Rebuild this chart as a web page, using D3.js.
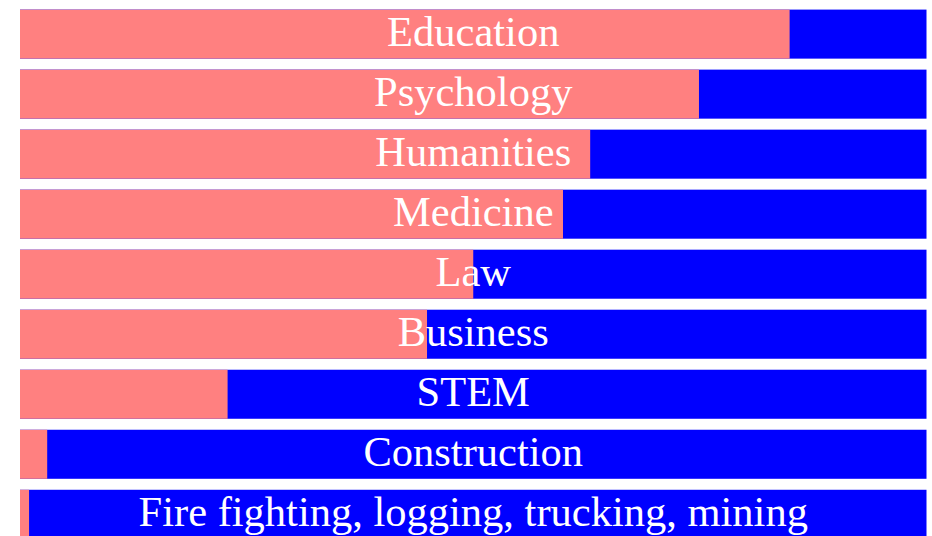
<!DOCTYPE html>
<html>
<head>
<meta charset="utf-8">
<script src="https://cdn.jsdelivr.net/npm/d3@7"></script>
<style>
  body { margin: 0; background: #fff; }
  svg { display: block; }
</style>
</head>
<body>
<div id="chart"></div>
<script>
// fields, top to bottom, and share of women (pink part) in each
var fields = ["Education", "Psychology", "Humanities", "Medicine", "Law",
              "Business", "STEM", "Construction", "Fire fighting, logging, trucking, mining"]
var women = [0.849, 0.749, 0.629, 0.599, 0.50, 0.449, 0.229, 0.03, 0.01]

var width = 932
var height = 536

var svg = d3.select("#chart")
  .append("svg")
  .attr("width", width)
  .attr("height", height)

// x scale goes over the full 0..1 share
var x = d3.scaleLinear()
  .domain([0, 1])
  .range([20, 926.5])

// band scale, last bar runs off the bottom like the original
var y = d3.scaleBand()
  .domain(fields)
  .range([-1.3, 538.7 + 11])
  .paddingInner(0.183)
  .paddingOuter(0.183 / 2 + 0.09)

var rows = svg.selectAll("g.row")
  .data(fields)
  .enter()
  .append("g")
  .attr("class", "row")

// blue part first (full bar), then pink on top
rows.append("rect")
  .attr("x", x(0))
  .attr("y", function(d) { return y(d) })
  .attr("width", x(1) - x(0))
  .attr("height", y.bandwidth())
  .attr("fill", "#0000ff")

rows.append("rect")
  .attr("x", x(0))
  .attr("y", function(d) { return y(d) })
  .attr("width", function(d, i) { return x(women[i]) - x(0) })
  .attr("height", y.bandwidth())
  .attr("fill", "#ff8080")

rows.append("text")
  .attr("x", (x(0) + x(1)) / 2)
  .attr("y", function(d) { return y(d) + y.bandwidth() / 2 })
  .attr("dy", "0.28em")
  .attr("text-anchor", "middle")
  .attr("font-family", "'Liberation Serif', 'Times New Roman', serif")
  .attr("font-size", 42.5)
  .attr("fill", "#fff")
  .text(function(d) { return d })
</script>
</body>
</html>
